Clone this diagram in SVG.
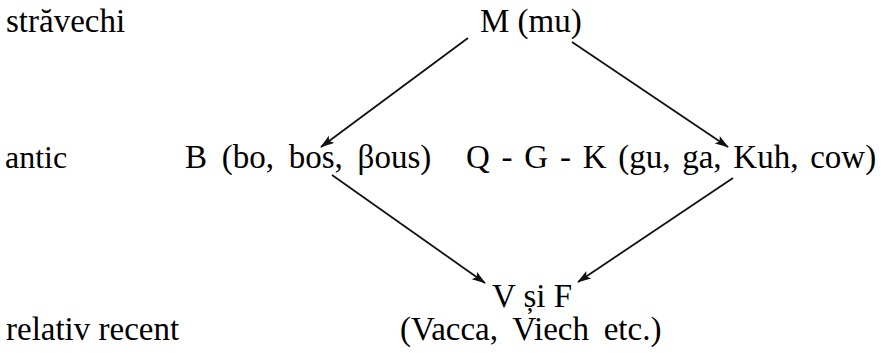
<svg xmlns="http://www.w3.org/2000/svg" width="881" height="353" viewBox="0 0 881 353">
<defs>
<marker id="ah" viewBox="0 0 14 10" refX="13" refY="5" markerWidth="14" markerHeight="10" markerUnits="userSpaceOnUse" orient="auto">
<path d="M0,0.5 L14,5 L0,9.5 L3,5 Z" fill="#111"/>
</marker>
</defs>
<g id="levels">
<text x="6" y="32" font-family="Liberation Serif" font-size="33">străvechi</text>
<text x="5" y="168" font-family="Liberation Serif" font-size="32">antic</text>
<text x="6" y="340" font-family="Liberation Serif" font-size="33">relativ recent</text>
</g>
<g id="M"><text x="480" y="32" font-family="Liberation Serif" font-size="33">M (mu)</text></g>
<g id="B"><text x="185" y="168" font-family="Liberation Serif" font-size="33" word-spacing="6.5">B (bo, bos, βous)</text></g>
<g id="Q"><text x="466" y="168" font-family="Liberation Serif" font-size="33" word-spacing="3.5">Q - G - K (gu, ga, Kuh, cow)</text></g>
<g id="V">
<text x="492" y="307" font-family="Liberation Serif" font-size="33">V și F</text>
<text x="400" y="340" font-family="Liberation Serif" font-size="33" word-spacing="6.5">(Vacca, Viech etc.)</text>
</g>
<g id="connectors" stroke="#111" stroke-width="1.8" fill="none">
<line x1="468" y1="38" x2="321" y2="147" marker-end="url(#ah)"/>
<line x1="572" y1="42" x2="728" y2="147" marker-end="url(#ah)"/>
<line x1="332" y1="175" x2="485" y2="283" marker-end="url(#ah)"/>
<line x1="733" y1="178" x2="578" y2="282" marker-end="url(#ah)"/>
</g>
</svg>
